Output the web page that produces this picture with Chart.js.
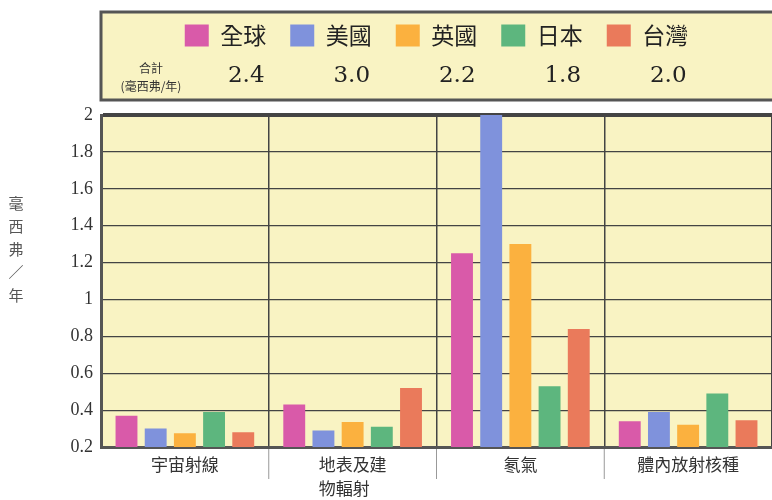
<!DOCTYPE html>
<html><head><meta charset="utf-8">
<script src="https://cdn.jsdelivr.net/npm/chart.js@4.4.1/dist/chart.umd.min.js"></script>
<style>html,body{margin:0;padding:0;background:#fff;}#wrap{width:772px;height:500px;position:relative;}</style>
</head><body><div id="wrap"><canvas id="c"></canvas></div>
<script>
// ---- data ----
const categories = ['宇宙射線', ['地表及建', '物輻射　'], '氡氣', '體內放射核種'];
const seriesNames = ['全球', '美國', '英國', '日本', '台灣'];
const globalVals = [0.37, 0.43, 1.25, 0.34];
const usaVals    = [0.30, 0.29, 2.00, 0.39];
const ukVals     = [0.275, 0.335, 1.30, 0.32];
const japanVals  = [0.39, 0.31, 0.53, 0.49];
const taiwanVals = [0.28, 0.52, 0.84, 0.345];
const totals = ['2.4', '3.0', '2.2', '1.8', '2.0'];
const totalsLabel = ['合計', '(毫西弗/年)'];
const yTitle = ['毫', '西', '弗', '／', '年'];
const yMin = 0.2, yMax = 2, yStep = 0.2;

// ---- styles ----
const colors = ['#d95aa9', '#7f92dc', '#fbb13f', '#5db67e', '#ea7a5b'];
const paper = '#f9f3c3';
const lineCol = '#555';
const seriesVals = [globalVals, usaVals, ukVals, japanVals, taiwanVals];

const legendSpace = {
  id: 'legendSpace',
  beforeInit(chart) {
    const fit = chart.legend.fit;
    chart.legend.fit = function () { fit.call(this); this.height = 115; };
  }
};

const decor = {
  id: 'decor',
  beforeDraw(chart) {
    const {ctx, chartArea: a, legend} = chart;
    ctx.save();
    const bt = legend.top + 12, bb = a.top - 15;
    ctx.fillStyle = paper;
    ctx.fillRect(a.left, bt, a.right - a.left + 10, bb - bt);
    ctx.strokeStyle = lineCol; ctx.lineWidth = 3;
    ctx.strokeRect(a.left, bt, a.right - a.left + 10, bb - bt);
    ctx.fillStyle = paper;
    ctx.fillRect(a.left, a.top, a.right - a.left, a.bottom - a.top);
    ctx.restore();
  },
  afterDraw(chart) {
    const {ctx, chartArea: a, legend, scales} = chart;
    ctx.save();
    const lo = legend.options.labels;
    const fs = lo.font.size;
    ctx.fillStyle = '#222';
    ctx.textAlign = 'center'; ctx.textBaseline = 'middle';
    ctx.font = '23px "DejaVu Serif"';
    legend.legendHitBoxes.forEach((hb, i) => {
      const tx = hb.left + lo.boxWidth + fs / 2;
      const cx = tx + (hb.width - lo.boxWidth - fs / 2) / 2;
      ctx.fillText(totals[i], cx + 3, legend.top + 76);
    });
    ctx.font = '12px "Noto Sans CJK TC"';
    ctx.fillStyle = '#333';
    ctx.fillText(totalsLabel[0], a.left + 50, legend.top + 68);
    ctx.fillText(totalsLabel[1], a.left + 50, legend.top + 86);
    ctx.font = '15px "Noto Sans CJK TC"';
    ctx.fillStyle = '#555';
    yTitle.forEach((ch, i) => ctx.fillText(ch, 16, a.top + 88 + i * 23));
    const x = scales.x;
    ctx.strokeStyle = '#999'; ctx.lineWidth = 1;
    for (let i = 1; i < categories.length; i++) {
      const bx = (x.getPixelForValue(i - 1) + x.getPixelForValue(i)) / 2;
      ctx.beginPath(); ctx.moveTo(bx, a.bottom + 2); ctx.lineTo(bx, a.bottom + 32); ctx.stroke();
    }
    ctx.restore();
  }
};

new Chart(document.getElementById('c'), {
  type: 'bar',
  data: {
    labels: categories,
    datasets: seriesNames.map((n, i) => ({
      label: n, data: seriesVals[i], backgroundColor: colors[i], borderWidth: 0
    }))
  },
  options: {
    responsive: true, maintainAspectRatio: false, animation: false,
    devicePixelRatio: 1,
    layout: {padding: {top: 0, left: 0, right: 0, bottom: -4}},
    categoryPercentage: 0.87, barPercentage: 0.75,
    plugins: {
      tooltip: {enabled: false},
      legend: {
        position: 'top', fullSize: false, align: 'center',
        labels: {
          boxWidth: 24, boxHeight: 22, padding: 24, color: '#222',
          font: {family: '"Noto Sans CJK TC"', size: 23}
        }
      }
    },
    scales: {
      x: {
        afterFit(s) { s.height = 57; },
        grid: {display: true, offset: true, color: '#444', lineWidth: 1.5, drawTicks: false},
        border: {display: true, color: lineCol, width: 3},
        ticks: {color: '#333', padding: 5, font: {family: '"Noto Sans CJK TC"', size: 17, lineHeight: 1.45}, maxRotation: 0, autoSkip: false}
      },
      y: {
        min: yMin, max: yMax,
        afterFit(s) { s.width = 101; },
        grid: {
          color: '#444', drawTicks: false,
          lineWidth: (c) => (c.tick && Math.abs(c.tick.value - yMax) < 1e-6 ? 4 : 1.2)
        },
        border: {display: true, color: lineCol, width: 3},
        ticks: {
          stepSize: yStep, padding: 8, color: '#333',
          font: {family: '"Liberation Serif"', size: 18},
          callback: (v) => (Math.abs(v - Math.round(v)) < 1e-6 ? String(Math.round(v)) : v.toFixed(1))
        }
      }
    }
  },
  plugins: [legendSpace, decor]
});
</script></body></html>
